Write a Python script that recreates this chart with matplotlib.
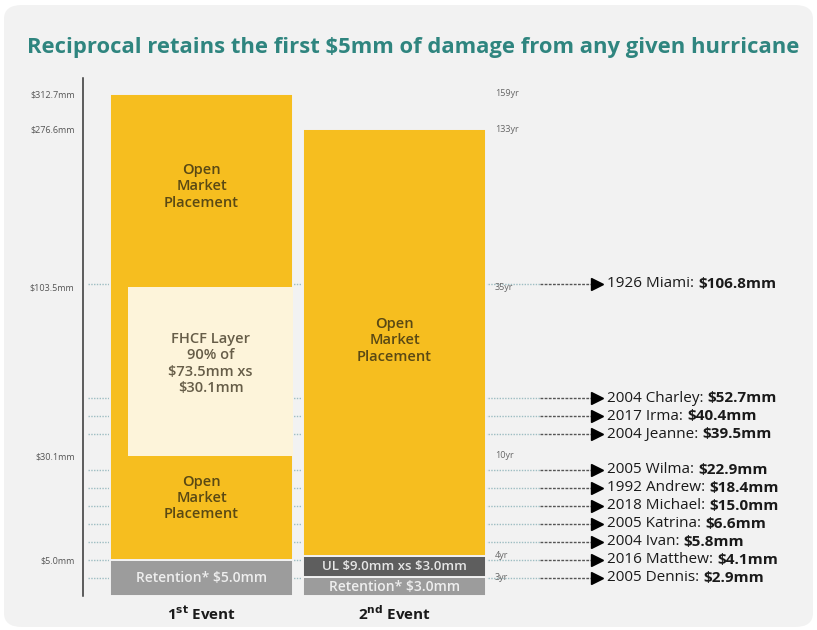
"""
Reinsurance tower for a 1st and 2nd hurricane event, with historical
storm losses marked against the tower.
"""

import numpy as np
import matplotlib.pyplot as plt
from matplotlib.patches import FancyBboxPatch

plt.rcParams['font.family'] = ['Open Sans', 'DejaVu Sans']

# ---- data --------------------------------------------------------------
EVENTS = ['1st', '2nd']

# 1st event layers ($mm)
E1_RETENTION = (0.0, 5.0)
E1_OPEN_MARKET = (5.0, 312.7)
E1_FHCF = (30.1, 103.5)
FHCF_LIMIT = 73.5
FHCF_SHARE = 0.90

# 2nd event layers ($mm)
E2_RETENTION = (0.0, 3.0)
E2_UL = (3.0, 12.0)
E2_OPEN_MARKET = (12.0, 276.6)

TICK_VALUES = [312.7, 276.6, 103.5, 30.1, 5.0]

RETURN_LEVELS = [312.7, 276.6, 103.5, 30.1, 12.0, 3.0]
RETURN_LABELS = ['159yr', '133yr', '35yr', '10yr', '4yr', '3yr']

HURRICANES = ['1926 Miami', '2004 Charley', '2017 Irma', '2004 Jeanne',
              '2005 Wilma', '1992 Andrew', '2018 Michael', '2005 Katrina',
              '2004 Ivan', '2016 Matthew', '2005 Dennis']
LOSSES = [106.8, 52.7, 40.4, 39.5, 22.9, 18.4, 15.0, 6.6, 5.8, 4.1, 2.9]

# ---- schematic (non-linear) tower scale --------------------------------
# layer attachment points -> drawing units (stretched so thin layers stay readable)
SCALE_VALUES = [0.0, 3.0, 5.0, 12.0, 30.1, 103.5, 276.6, 312.7]
SCALE_UNITS = [0, 19, 36, 40, 140, 309, 467, 502]


def tower_fwd(v):
    return np.interp(v, SCALE_VALUES, SCALE_UNITS)


def tower_inv(u):
    return np.interp(u, SCALE_UNITS, SCALE_VALUES)


def money(v):
    return rf'\${v:.1f}mm'


# colours
PANEL = '#f2f2f2'
YELLOW = '#f6be1f'
FHCF_FILL = '#fdf4da'
RET_GREY = '#9c9c9c'
UL_GREY = '#5e5e5e'
OMP_TEXT = '#5a4914'
FHCF_TEXT = '#665d48'
TITLE_TEAL = '#2f857f'

W, H, DPI = 817, 630, 100
fig = plt.figure(figsize=(W / DPI, H / DPI), dpi=DPI)
fig.patch.set_facecolor('white')

# rounded background panel
panel = FancyBboxPatch((4 / W, 3 / H), 809 / W, 622 / H,
                       boxstyle='round,pad=0,rounding_size=0.022',
                       transform=fig.transFigure, facecolor=PANEL,
                       edgecolor='none', zorder=-10)
fig.patches.append(panel)

fig.text(413 / W, 1 - 47 / H,
         'Reciprocal retains the first \\$5mm of damage from any given hurricane',
         ha='center', va='center', fontsize=15.8, fontweight='bold',
         color=TITLE_TEAL)

# axes: left edge on the axis line, y from $0 to $312.7mm
ax_left, ax_right = 83, 800
ax_bottom, ax_top = 596, 94
ax = fig.add_axes([ax_left / W, 1 - ax_bottom / H,
                   (ax_right - ax_left) / W, (ax_bottom - ax_top) / H])
ax.set_zorder(5)
ax.patch.set_visible(False)
ax.set_yscale('function', functions=(tower_fwd, tower_inv))

px_per_unit = 193.0
x0_px = 201.5
ax.set_xlim((ax_left - x0_px) / px_per_unit, (ax_right - x0_px) / px_per_unit)
ax.set_ylim(0, 312.7)

bar_w = 183 / px_per_unit
x1, x2 = 0, 1


def layer(x, span, color, width=bar_w, offset=0.0, edge=PANEL, z=2):
    lo, hi = span
    ax.bar(x + offset, hi - lo, bottom=lo, width=width, color=color,
           edgecolor=edge, linewidth=1.4, zorder=z)


def mid(span, shift=0.0):
    return tower_inv((tower_fwd(span[0]) + tower_fwd(span[1])) / 2 + shift)


# 1st event
layer(x1, E1_RETENTION, RET_GREY)
layer(x1, E1_OPEN_MARKET, YELLOW)
fhcf_w = bar_w * FHCF_SHARE
layer(x1, E1_FHCF, FHCF_FILL, width=fhcf_w, offset=(bar_w - fhcf_w) / 2,
      edge='none', z=3)

# 2nd event
layer(x2, E2_RETENTION, RET_GREY)
layer(x2, E2_UL, UL_GREY)
layer(x2, E2_OPEN_MARKET, YELLOW)

omp_label = 'Open\nMarket\nPlacement'
box_font = dict(ha='center', va='center', fontsize=10.5,
                fontweight='semibold', linespacing=1.2, zorder=5)
ax.text(x1, mid((E1_FHCF[1], E1_OPEN_MARKET[1]), 4), omp_label,
        color=OMP_TEXT, **box_font)
ax.text(x1, mid((E1_OPEN_MARKET[0], E1_FHCF[0]), 10), omp_label,
        color=OMP_TEXT, **box_font)
fhcf_txt = (f'FHCF Layer\n{FHCF_SHARE:.0%} of\n'
            f'{money(FHCF_LIMIT)} xs\n{money(E1_FHCF[0])}')
ax.text(x1 + (bar_w - fhcf_w) / 2, mid(E1_FHCF, 8), fhcf_txt,
        color=FHCF_TEXT, **box_font)
ax.text(x1, mid(E1_RETENTION), f'Retention* {money(E1_RETENTION[1])}',
        ha='center', va='center', fontsize=10, fontweight='semibold',
        color='#eeeeee', zorder=5)

ax.text(x2, mid(E2_OPEN_MARKET, 2), omp_label, color=OMP_TEXT, **box_font)
ax.text(x2, mid(E2_UL),
        f'UL {money(E2_UL[1] - E2_UL[0])} xs {money(E2_UL[0])}',
        ha='center', va='center', fontsize=9.5, fontweight='semibold',
        color='#e6e6e6', zorder=5)
ax.text(x2, mid(E2_RETENTION), f'Retention* {money(E2_RETENTION[1])}',
        ha='center', va='center', fontsize=10, fontweight='semibold',
        color='#eeeeee', zorder=5)

# event labels under the bars
for x, ev in zip([x1, x2], EVENTS):
    num, suf = ev[0], ev[1:]
    ax.text(x, -0.016, rf'{num}$^{{\mathbf{{{suf}}}}}$ Event',
            transform=ax.get_xaxis_transform(), ha='center', va='top',
            fontsize=11, fontweight='bold', color='#1a1a1a')

# y axis: tick labels plus a plain vertical rule
ax.set_yticks(TICK_VALUES)
ax.set_yticklabels([money(v) for v in TICK_VALUES])
ax.tick_params(axis='y', length=0, pad=6, labelsize=6.5, labelcolor='#555555')
ax.set_xticks([])
for s in ax.spines.values():
    s.set_visible(False)
ax.plot([0, 0], [0, 1.032], transform=ax.transAxes, color='#333333',
        lw=1.1, clip_on=False, zorder=4)

# return periods beside the 2nd event
for lvl, lab in zip(RETURN_LEVELS, RETURN_LABELS):
    ax.text(1.52, lvl, lab, ha='left', va='center', fontsize=6.5,
            color='#666666', zorder=5)

# hurricane markers: keep rows at least min_gap drawing units apart
min_gap = 18.0
units = tower_fwd(np.array(LOSSES))
order = np.argsort(units)
placed = np.empty_like(units)
last = -np.inf
for i in order:
    placed[i] = max(units[i], last + min_gap)
    last = placed[i]
rows = tower_inv(placed)

line_start = (88 - x0_px) / px_per_unit
dark_start = (540 - x0_px) / px_per_unit
head_x = (597 - x0_px) / px_per_unit
text_x = (607 - x0_px) / px_per_unit

for name, loss, y in zip(HURRICANES, LOSSES, rows):
    ax.plot([line_start, dark_start], [y, y], color='#9dbdc2', lw=1,
            ls=(0, (1, 1)), zorder=1)
    ax.plot([dark_start, head_x - 0.02], [y, y], color='#555555', lw=1,
            ls=(0, (2, 1)), zorder=1)
    ax.plot(head_x, y, marker='>', ms=8, color='black', zorder=4)
    t = ax.text(text_x, y, f'{name}: ', ha='left', va='center',
                fontsize=11, color='#1a1a1a', zorder=5)
    ax.annotate(money(loss), xy=(1, 0.5), xycoords=t, ha='left',
                va='center', fontsize=11, fontweight='bold',
                color='#1a1a1a', zorder=5)

fig.savefig('out.png', dpi=DPI)
